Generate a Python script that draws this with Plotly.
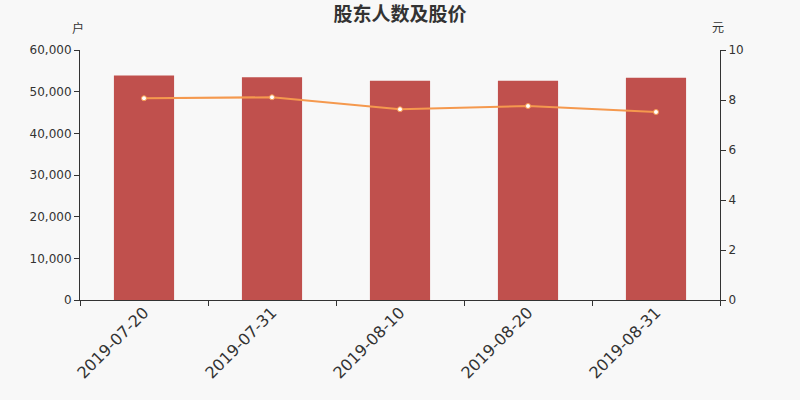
import plotly.graph_objects as go

# Data
dates = ["2019-07-20", "2019-07-31", "2019-08-10", "2019-08-20", "2019-08-31"]
holders = [53900, 53450, 52600, 52650, 53350]
prices = [8.07, 8.11, 7.63, 7.76, 7.52]

BAR_COLOR = "#c0504d"
LINE_COLOR = "#f5994e"
FONT = "DejaVu Sans, Noto Sans CJK SC"

fig = go.Figure()
fig.add_trace(go.Bar(
    x=dates, y=holders, name="股东人数",
    marker=dict(color=BAR_COLOR, line=dict(width=0)),
    width=0.47,
))
fig.add_trace(go.Scatter(
    x=dates, y=prices, name="股价", yaxis="y2",
    mode="lines+markers",
    line=dict(color=LINE_COLOR, width=2),
    marker=dict(color="white", size=5, line=dict(color=LINE_COLOR, width=1)),
))

fig.update_layout(
    width=800, height=400,
    paper_bgcolor="#f8f8f8", plot_bgcolor="#f8f8f8",
    margin=dict(l=80, r=80, t=50, b=100),
    showlegend=False,
    font=dict(family=FONT, color="#333333", size=12),
    title=dict(text="<b>股东人数及股价</b>", x=0.5, xanchor="center",
               y=0.965, yanchor="middle", font=dict(size=19, color="#333333")),
    xaxis=dict(
        type="category", tickson="boundaries", ticks="outside", ticklen=5,
        tickcolor="#333333", showline=True, linecolor="#333333", linewidth=1,
        showgrid=False, tickangle=-45, tickfont=dict(size=16, color="#333333"),
        ticklabelstandoff=-4,
    ),
    yaxis=dict(
        range=[0, 60000], dtick=10000, tickformat=",d",
        ticks="outside", ticklen=5, tickcolor="#333333",
        showline=True, linecolor="#333333", linewidth=1,
        showgrid=False, zeroline=False,
    ),
    yaxis2=dict(
        range=[0, 10], dtick=2, overlaying="y", side="right",
        ticks="outside", ticklen=5, tickcolor="#333333",
        showline=True, linecolor="#333333", linewidth=1,
        showgrid=False, zeroline=False,
    ),
    annotations=[
        dict(text="户", xref="paper", yref="paper", x=0, y=1,
             xanchor="center", yanchor="middle", xshift=-2, yshift=22,
             showarrow=False, font=dict(size=12)),
        dict(text="元", xref="paper", yref="paper", x=1, y=1,
             xanchor="center", yanchor="middle", xshift=-2, yshift=22,
             showarrow=False, font=dict(size=12)),
    ],
)

# drop the default page margin so the figure sits at the window's corner
fig.write_html("out.html", config={"displayModeBar": False},
               post_script="document.body.style.margin='0';")
